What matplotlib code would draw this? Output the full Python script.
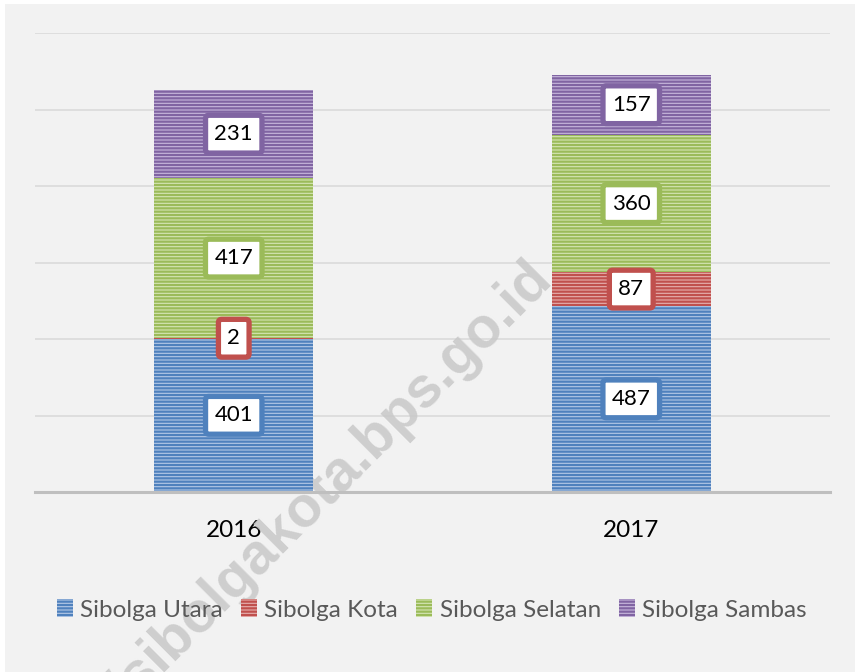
import matplotlib
matplotlib.use("Agg")
import matplotlib.pyplot as plt
from matplotlib.patches import Rectangle
import numpy as np

# data
tahun = ["2016", "2017"]
kecamatan = ["Sibolga Utara", "Sibolga Kota", "Sibolga Selatan", "Sibolga Sambas"]
sibolga_utara = [401, 487]
sibolga_kota = [2, 87]
sibolga_selatan = [417, 360]
sibolga_sambas = [231, 157]

warna = ["#4f81bd", "#c0504d", "#9bbb59", "#8064a2"]
warna_muda = ["#b3c8e6", "#e6b0ae", "#d5e5b5", "#c7b8dc"]

plt.rcParams["font.family"] = ["Lato", "DejaVu Sans"]
plt.rcParams["hatch.linewidth"] = 1.6

fig = plt.figure(figsize=(8.55, 6.72), dpi=100, facecolor="white")
fig.patches.append(Rectangle((5 / 855, 0), 1, 1 - 4 / 672, transform=fig.transFigure,
                             facecolor="#f2f2f2", edgecolor="none", zorder=-10))

ax = fig.add_axes([35 / 855, 1 - 492 / 672, 795 / 855, 459 / 672])
ax.set_facecolor("none")

x = np.arange(len(tahun))
seri = [sibolga_utara, sibolga_kota, sibolga_selatan, sibolga_sambas]
bawah = np.zeros(len(tahun))
for nama, nilai, c, cm in zip(kecamatan, seri, warna, warna_muda):
    nilai = np.array(nilai)
    ax.bar(x, nilai, 0.4, bottom=bawah, facecolor=cm, edgecolor=c, hatch="-----",
           linewidth=0, label=nama, zorder=2)
    for xi, b, v in zip(x, bawah, nilai):
        ax.text(xi, b + v / 2, str(v), ha="center", va="center", fontsize=16,
                color="black", zorder=4,
                bbox=dict(boxstyle="round,pad=0.4,rounding_size=0.15", facecolor="white",
                          edgecolor=c, linewidth=3.8))
    bawah = bawah + nilai

ax.set_xlim(-0.5, 1.5)
ax.set_ylim(0, 1200)
ax.set_yticks(np.arange(200, 1201, 200))
ax.set_yticklabels([])
ax.tick_params(axis="y", length=0)
ax.grid(axis="y", color="#d9d9d9", linewidth=1.1)
ax.set_axisbelow(True)

ax.set_xticks(x)
ax.set_xticklabels(tahun, fontsize=17.5, color="black")
ax.tick_params(axis="x", length=0, pad=20)

for s in ["left", "right", "top"]:
    ax.spines[s].set_visible(False)
ax.spines["bottom"].set_color("#bfbfbf")
ax.spines["bottom"].set_linewidth(2.2)
ax.spines["bottom"].set_zorder(3)

# watermark
ax.text(553 / 855, 1 - 280 / 672, "http://sibolgakota.bps.go.id", transform=fig.transFigure,
        rotation=45, rotation_mode="anchor", ha="right", va="baseline",
        fontsize=41, fontweight="bold", family="Liberation Sans",
        color="#c8c8c8", alpha=0.85, zorder=1, clip_on=False)

leg = fig.legend(loc="center", bbox_to_anchor=(432 / 855, 1 - 610 / 672), ncol=4,
                 frameon=False, fontsize=17.5, handlelength=0.65, handleheight=0.7,
                 handletextpad=0.3, columnspacing=0.75, labelcolor="#595959")

fig.savefig("out.png", dpi=100, facecolor=fig.get_facecolor())
